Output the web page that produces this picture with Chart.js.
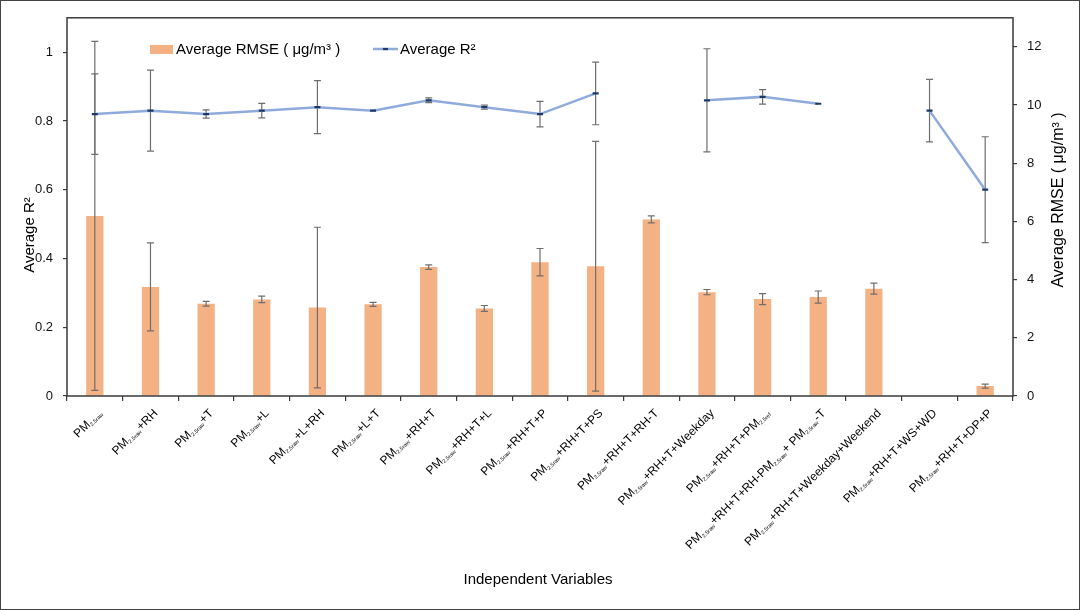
<!DOCTYPE html>
<html>
<head>
<meta charset="utf-8">
<script src="https://cdn.jsdelivr.net/npm/chart.js@4.4.1/dist/chart.umd.min.js"></script>
<style>
  html, body { margin: 0; padding: 0; background: #fff; }
  #wrap { position: relative; width: 1080px; height: 610px; }
</style>
</head>
<body>
<div id="wrap"><canvas id="c"></canvas></div>
<script>
// ---------- DATA ----------
const categories = [
  "PM_{2.5raw}",
  "PM_{2.5raw}+RH",
  "PM_{2.5raw}+T",
  "PM_{2.5raw}+L",
  "PM_{2.5raw}+L+RH",
  "PM_{2.5raw}+L+T",
  "PM_{2.5raw}+RH+T",
  "PM_{2.5raw}+RH+T+L",
  "PM_{2.5raw}+RH+T+P",
  "PM_{2.5raw}+RH+T+PS",
  "PM_{2.5raw}+RH+T+RH-T",
  "PM_{2.5raw}+RH+T+Weekday",
  "PM_{2.5raw}+RH+T+PM_{2.5ref}",
  "PM_{2.5raw}+RH+T+RH-PM_{2.5raw}+ PM_{2.5raw}-T",
  "PM_{2.5raw}+RH+T+Weekday+Weekend",
  "PM_{2.5raw}+RH+T+WS+WD",
  "PM_{2.5raw}+RH+T+DP+P"
];
const rmseValues = [6.19, 3.75, 3.17, 3.32, 3.04, 3.15, 4.43, 3.01, 4.60, 4.46, 6.07, 3.57, 3.33, 3.40, 3.69, null, 0.34];
const rmseErrors = [6.00, 1.51, 0.08, 0.11, 2.76, 0.07, 0.08, 0.10, 0.47, 4.29, 0.12, 0.09, 0.19, 0.21, 0.19, null, 0.07];
const r2Values   = [0.82, 0.83, 0.82, 0.83, 0.84, 0.83, 0.86, 0.84, 0.82, 0.88, null, 0.86, 0.87, 0.85, null, 0.83, 0.60];
const r2Errors   = [0.117, 0.118, 0.012, 0.021, 0.077, 0, 0.007, 0.006, 0.037, 0.091, null, 0.15, 0.021, 0, null, 0.091, 0.154];
const leftTicks  = { min: 0, max: 1.1, step: 0.2 };
const rightTicks = { min: 0, max: 13, step: 2 };
const rmseLabel = "Average RMSE ( μg/m³ )";
const r2Label = "Average R²";
const xTitle = "Independent Variables";

// ---------- STYLE ----------
const FONT = '"Liberation Sans", Arial, Helvetica, sans-serif';
const BAR_COLOR = '#F4B183';
const LINE_COLOR = '#8FAADC';
const MARK_COLOR = '#1F3864';
const ERR_COLOR = '#6e6e6e';
const AXIS_COLOR = '#3a3a3a';

function parseLabel(s) {
  const segs = []; const re = /_\{([^}]*)\}/g; let last = 0, m;
  while ((m = re.exec(s))) {
    if (m.index > last) segs.push({ t: s.slice(last, m.index), sub: false });
    segs.push({ t: m[1], sub: true });
    last = re.lastIndex;
  }
  if (last < s.length) segs.push({ t: s.slice(last), sub: false });
  return segs;
}

function drawErr(ctx, x, yc, yTop, yBot) {
  const cap = 3.5;
  ctx.beginPath();
  ctx.moveTo(x, yTop); ctx.lineTo(x, yBot);
  ctx.moveTo(x - cap, yTop); ctx.lineTo(x + cap, yTop);
  ctx.moveTo(x - cap, yBot); ctx.lineTo(x + cap, yBot);
  ctx.stroke();
}

const decorPlugin = {
  id: 'decor',
  afterDatasetDraw(chart, args) {
    const ctx = chart.ctx;
    if (args.meta.type === 'bar') {
      const ys = chart.scales.yR, xs = chart.scales.x;
      ctx.save();
      ctx.strokeStyle = ERR_COLOR; ctx.lineWidth = 1.2;
      rmseValues.forEach((v, i) => {
        const e = rmseErrors[i];
        if (v == null || !e) return;
        const x = xs.getPixelForValue(i);
        drawErr(ctx, x, ys.getPixelForValue(v), ys.getPixelForValue(v + e), ys.getPixelForValue(v - e));
      });
      ctx.restore();
    }
  },
  beforeDatasetDraw(chart, args) {
    const ctx = chart.ctx;
    if (args.meta.type === 'line') {
      const ys = chart.scales.yL, xs = chart.scales.x;
      ctx.save();
      ctx.strokeStyle = ERR_COLOR; ctx.lineWidth = 1.2;
      r2Values.forEach((v, i) => {
        const e = r2Errors[i];
        if (v == null || !e) return;
        const x = xs.getPixelForValue(i);
        drawErr(ctx, x, ys.getPixelForValue(v), ys.getPixelForValue(v + e), ys.getPixelForValue(v - e));
      });
      ctx.restore();
    }
  },
  afterDraw(chart) {
    const ctx = chart.ctx, ca = chart.chartArea, xs = chart.scales.x;
    ctx.save();
    // plot frame
    ctx.strokeStyle = AXIS_COLOR; ctx.lineWidth = 1.5;
    ctx.strokeRect(ca.left, ca.top, ca.right - ca.left, ca.bottom - ca.top);
    // outer frame
    ctx.strokeStyle = '#444'; ctx.lineWidth = 1;
    ctx.strokeRect(0.5, 0.5, chart.width - 1, chart.height - 1);

    // x labels (rotated, with subscripts)
    ctx.fillStyle = '#000';
    const MAIN = '12px ' + FONT, SUB = '5.5px ' + FONT;
    categories.forEach((lab, i) => {
      const cx = xs.getPixelForValue(i);
      const segs = parseLabel(lab);
      let total = 0;
      segs.forEach(s => { ctx.font = s.sub ? SUB : MAIN; s.w = ctx.measureText(s.t).width; total += s.w; });
      ctx.save();
      ctx.translate(cx + 5, ca.bottom + 15);
      ctx.rotate(-Math.PI / 4);
      ctx.textAlign = 'left'; ctx.textBaseline = 'alphabetic';
      let x = -total;
      segs.forEach(s => { ctx.font = s.sub ? SUB : MAIN; ctx.fillText(s.t, x, s.sub ? 5.5 : 4); x += s.w; });
      ctx.restore();
    });

    // axis titles
    ctx.fillStyle = '#000';
    ctx.textAlign = 'center'; ctx.textBaseline = 'middle';
    ctx.font = '15px ' + FONT;
    ctx.fillText(xTitle, 538, 580);
    ctx.save(); ctx.translate(30, 235); ctx.rotate(-Math.PI / 2);
    ctx.fillText(r2Label, 0, 0); ctx.restore();
    ctx.save(); ctx.translate(1059, 200); ctx.rotate(-Math.PI / 2);
    ctx.font = '16px ' + FONT;
    ctx.fillText(rmseLabel, 0, 0); ctx.restore();

    // legend
    ctx.font = '15px ' + FONT; ctx.textAlign = 'left'; ctx.textBaseline = 'middle';
    ctx.fillStyle = BAR_COLOR; ctx.fillRect(150, 45, 23, 9);
    ctx.fillStyle = '#000'; ctx.fillText(rmseLabel, 176, 49.5);
    ctx.strokeStyle = LINE_COLOR; ctx.lineWidth = 2.5;
    ctx.beginPath(); ctx.moveTo(373, 49); ctx.lineTo(398, 49); ctx.stroke();
    ctx.strokeStyle = MARK_COLOR; ctx.lineWidth = 2.2;
    ctx.beginPath(); ctx.moveTo(383, 49); ctx.lineTo(388, 49); ctx.stroke();
    ctx.fillText(r2Label, 400, 49.5);
    ctx.restore();
  }
};

new Chart(document.getElementById('c'), {
  data: {
    labels: categories,
    datasets: [
      {
        type: 'line', label: r2Label, data: r2Values, yAxisID: 'yL',
        borderColor: LINE_COLOR, borderWidth: 2.5, tension: 0, spanGaps: false,
        pointStyle: 'line', pointRadius: 3, pointBorderColor: MARK_COLOR, pointBorderWidth: 2.2,
        pointBackgroundColor: MARK_COLOR, pointHoverRadius: 3
      },
      {
        type: 'bar', label: rmseLabel, data: rmseValues, yAxisID: 'yR',
        backgroundColor: BAR_COLOR, borderWidth: 0,
        categoryPercentage: 1.0, barPercentage: 0.31
      }
    ]
  },
  options: {
    responsive: true, maintainAspectRatio: false, animation: false,
    layout: { padding: { top: 17, left: 0, right: 0, bottom: 0 } },
    plugins: { legend: { display: false }, tooltip: { enabled: false } },
    events: [],
    scales: {
      x: {
        type: 'category', offset: true,
        grid: { display: true, offset: true, drawOnChartArea: false, drawTicks: true, tickLength: 5, color: AXIS_COLOR, lineWidth: 1.2 },
        border: { display: false },
        ticks: { display: false },
        afterFit(s) { s.height = 214; }
      },
      yL: {
        type: 'linear', position: 'left', min: leftTicks.min, max: leftTicks.max,
        ticks: { stepSize: leftTicks.step, includeBounds: false, padding: 10, color: '#111', font: { family: FONT, size: 13 },
                 callback: v => String(Number(v.toFixed(1))) },
        grid: { drawOnChartArea: false, drawTicks: true, tickLength: 4, color: AXIS_COLOR, lineWidth: 1.2 },
        border: { display: false },
        afterFit(s) { s.width = 67; }
      },
      yR: {
        type: 'linear', position: 'right', min: rightTicks.min, max: rightTicks.max,
        ticks: { stepSize: rightTicks.step, includeBounds: false, padding: 10, color: '#111', font: { family: FONT, size: 13 } },
        grid: { drawOnChartArea: false, drawTicks: true, tickLength: 4, color: AXIS_COLOR, lineWidth: 1.2 },
        border: { display: false },
        afterFit(s) { s.width = 67; }
      }
    }
  },
  plugins: [decorPlugin]
});
</script>
</body>
</html>
